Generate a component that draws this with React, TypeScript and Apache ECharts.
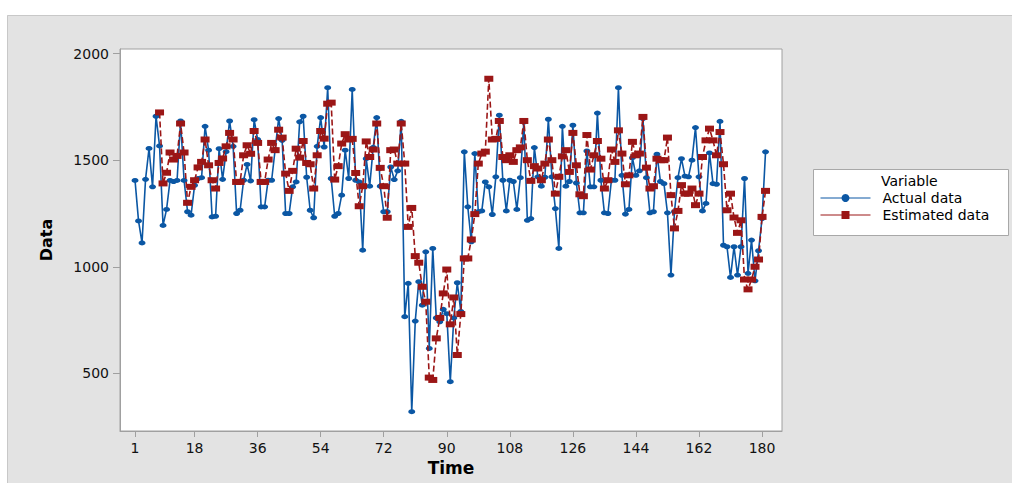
import React, { useEffect, useRef } from "react";
import * as echarts from "echarts";

const xTicks = [1, 18, 36, 54, 72, 90, 108, 126, 144, 162, 180];
const yTicks = [500, 1000, 1500, 2000];
const seriesNames = ["Actual data", "Estimated data"];
const legendTitle = "Variable";
const xTitle = "Time";
const yTitle = "Data";

// Actual data, time 1..181
const actualData = [
  1405, 1215, 1112, 1410, 1555, 1375, 1706, 1567, 1194, 1269,
  1405, 1400, 1405, 1684, 1405, 1258, 1242, 1382, 1414, 1418,
  1659, 1547, 1234, 1237, 1554, 1410, 1540, 1684, 1565, 1250,
  1265, 1406, 1480, 1403, 1690, 1597, 1281, 1281, 1406, 1406,
  1550, 1695, 1593, 1250, 1250, 1375, 1398, 1680, 1706, 1420,
  1265, 1230, 1565, 1700, 1562, 1840, 1414, 1237, 1250, 1336,
  1547, 1414, 1832, 1406, 1398, 1078, 1507, 1378, 1560, 1700,
  1378, 1258, 1258, 1468, 1409, 1450, 1682, 766, 922, 320,
  745, 930, 820, 1070, 617, 1086, 760, 742, 800, 780,
  461, 760, 925, 790, 1539, 1281, 1117, 1531, 1258, 1262,
  1398, 1375, 1245, 1422, 1711, 1406, 1262, 1406, 1400, 1269,
  1418, 1679, 1218, 1226, 1559, 1422, 1378, 1420, 1692, 1422,
  1273, 1086, 1659, 1378, 1400, 1664, 1393, 1253, 1253, 1543,
  1375, 1375, 1721, 1406, 1253, 1250, 1406, 1406, 1840, 1429,
  1247, 1269, 1512, 1429, 1450, 1695, 1418, 1253, 1258, 1528,
  1400, 1390, 1253, 961, 1258, 1418, 1507, 1425, 1422, 1500,
  1653, 1422, 1262, 1297, 1534, 1390, 1387, 1682, 1101, 1094,
  950, 1094, 961, 1094, 1414, 969, 1125, 934, 1075, 1226,
  1539,
];

// Estimated data, time 8..181
const estimatedStart = 8;
const estimatedData = [
  1724, 1391, 1441,
  1536, 1503, 1520, 1672, 1536, 1300, 1375, 1406, 1466, 1492,
  1597, 1476, 1406, 1367, 1487, 1508, 1565, 1628, 1597, 1398,
  1398, 1523, 1570, 1530, 1637, 1581, 1398, 1398, 1503, 1581,
  1547, 1643, 1606, 1437, 1356, 1450, 1554, 1512, 1590, 1487,
  1481, 1367, 1523, 1637, 1601, 1765, 1770, 1409, 1472, 1578,
  1622, 1597, 1600, 1440, 1284, 1378, 1588, 1515, 1550, 1672,
  1464, 1378, 1230, 1547, 1550, 1484, 1672, 1484, 1187, 1276,
  1050, 1019, 906, 836, 480, 469, 664, 760, 875, 987,
  730, 856, 586, 778, 1039, 1039, 1128, 1247, 1484, 1531,
  1540, 1882, 1597, 1600, 1684, 1515, 1500, 1523, 1492, 1547,
  1560, 1684, 1500, 1403, 1472, 1461, 1406, 1484, 1597, 1500,
  1343, 1422, 1518, 1547, 1445, 1628, 1476, 1340, 1331, 1618,
  1456, 1523, 1590, 1507, 1367, 1406, 1550, 1492, 1640, 1531,
  1387, 1429, 1586, 1523, 1531, 1703, 1465, 1367, 1378, 1507,
  1500, 1500, 1606, 1336, 1180, 1262, 1383, 1343, 1343, 1367,
  1289, 1343, 1515, 1593, 1648, 1593, 1523, 1632, 1481, 1265,
  1343, 1231, 1159, 1218, 940, 894, 940, 1000, 1034, 1234,
  1356,
];

const BLUE = "#0b57a4";
const RED = "#9b1616";
const FONT = "DejaVu Sans";

export default function App() {
  const ref = useRef<HTMLDivElement>(null);

  useEffect(() => {
    if (!ref.current) return;
    const chart = echarts.init(ref.current, null, { renderer: "svg" });
    const actualPairs = actualData.map((v, i) => [i + 1, v]);
    const estPairs = estimatedData.map((v, i) => [i + estimatedStart, v]);

    const axisColor = "#a0a0a0";

    chart.setOption({
      animation: false,
      backgroundColor: "#e3e3e3",
      graphic: [
        { type: "rect", silent: true, shape: { x: 0, y: 0, width: 1012, height: 15 }, style: { fill: "#ffffff" } },
        { type: "rect", silent: true, shape: { x: 0, y: 0, width: 7, height: 483 }, style: { fill: "#ffffff" } },
        { type: "polyline", silent: true, shape: { points: [[7.5, 483], [7.5, 15.5], [1012, 15.5]] }, style: { stroke: "#c8c8c8", lineWidth: 1, fill: null } },
        { type: "rect", silent: true, z: 1, shape: { x: 813.5, y: 169.5, width: 195, height: 66 }, style: { fill: "#ffffff", stroke: "#a8a8a8", lineWidth: 1 } },
        { type: "text", silent: true, z: 1, x: 881, y: 181, style: { text: legendTitle, fill: "#000", fontFamily: FONT, fontSize: 14, lineHeight: 15, verticalAlign: "middle", align: "left" } },
      ],
      grid: {
        left: 120,
        top: 49,
        width: 662,
        height: 382,
        show: true,
        backgroundColor: "#ffffff",
        borderColor: axisColor,
        borderWidth: 1,
      },
      legend: {
        orient: "vertical",
        left: 820,
        top: 190.5,
        padding: 0,
        itemWidth: 50,
        itemHeight: 10,
        itemGap: 2,
        textStyle: { fontFamily: FONT, fontSize: 14, lineHeight: 15, color: "#000", padding: [0, 0, 0, 7] },
        data: [
          { name: seriesNames[0], lineStyle: { width: 1, type: "solid", color: BLUE } },
          { name: seriesNames[1], lineStyle: { width: 1, type: "solid", color: RED } },
        ],
      },
      xAxis: {
        type: "value",
        min: -3.29,
        max: 185.7,
        splitLine: { show: false },
        axisLine: { show: true, onZero: false, lineStyle: { color: axisColor } },
        axisTick: { show: true, length: 6, lineStyle: { color: axisColor }, customValues: xTicks },
        axisLabel: { customValues: xTicks, formatter: (v: number) => String(v), fontFamily: FONT, fontSize: 14, color: "#111", margin: 10 },
        name: xTitle,
        nameLocation: "middle",
        nameGap: 27,
        nameTextStyle: { fontFamily: FONT, fontSize: 17, fontWeight: "bold", color: "#000" },
      },
      yAxis: {
        type: "value",
        min: 229.5,
        max: 2021.6,
        splitLine: { show: false },
        axisLine: { show: true, onZero: false, lineStyle: { color: axisColor } },
        axisTick: { show: true, length: 7, lineStyle: { color: axisColor }, customValues: yTicks },
        axisLabel: { customValues: yTicks, formatter: (v: number) => String(v), fontFamily: FONT, fontSize: 14, color: "#111", margin: 11 },
        name: yTitle,
        nameLocation: "middle",
        nameRotate: 90,
        nameGap: 66,
        nameTextStyle: { fontFamily: FONT, fontSize: 16, fontWeight: "bold", color: "#000" },
      },
      series: [
        {
          name: seriesNames[0],
          type: "line",
          data: actualPairs,
          showAllSymbol: true,
          symbol: "circle",
          symbolSize: [7, 5],
          lineStyle: { color: BLUE, width: 1.6 },
          itemStyle: { color: BLUE },
          z: 2,
        },
        {
          name: seriesNames[1],
          type: "line",
          data: estPairs,
          showAllSymbol: true,
          symbol: "rect",
          symbolSize: [9, 6],
          lineStyle: { color: RED, width: 1.6, type: [6, 3] },
          itemStyle: { color: RED },
          z: 3,
        },
      ],
    });

    return () => chart.dispose();
  }, []);

  return (
    <div
      ref={ref}
      style={{ position: "absolute", left: 0, top: 0, width: 1012, height: 483 }}
    />
  );
}
